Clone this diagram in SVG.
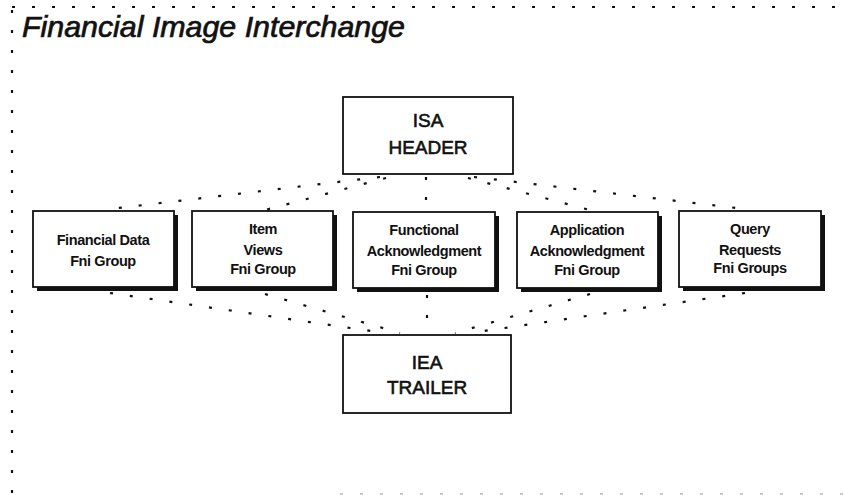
<svg xmlns="http://www.w3.org/2000/svg" width="844" height="495" viewBox="0 0 844 495">
  <style>
    .frame { stroke: #111; stroke-width: 2.2; stroke-dasharray: 3 17; fill: none; }
    .frame-faint { stroke: #bbb; stroke-width: 1.5; stroke-dasharray: 3 17; fill: none; }
    .link { stroke: #111; stroke-width: 2.2; stroke-dasharray: 3 17; fill: none; }
    .box { fill: #fff; stroke: #111; stroke-width: 1.8; }
    .shadow { fill: #111; }
    .title { font-family: "Liberation Sans", Arial, sans-serif; font-style: italic; font-size: 29px; fill: #111; stroke: #111; stroke-width: 0.7px; }
    .big { font-family: "Liberation Sans", Arial, sans-serif; font-size: 19px; fill: #111; stroke: #111; stroke-width: 0.6px; text-anchor: middle; }
    .small { font-family: "Liberation Sans", Arial, sans-serif; font-size: 14.5px; font-weight: bold; letter-spacing: -0.4px; fill: #111; text-anchor: middle; }
  </style>
  <rect width="844" height="495" fill="#fff"/>

  <!-- dotted page frame -->
  <g id="frame">
    <line class="frame" x1="12" y1="7" x2="844" y2="7"/>
    <line class="frame" x1="12" y1="10" x2="12" y2="495"/>
    <line class="frame-faint" x1="340" y1="494" x2="844" y2="494"/>
  </g>

  <text class="title" x="22" y="37" textLength="383" lengthAdjust="spacingAndGlyphs">Financial Image Interchange</text>

  <!-- dotted connectors -->
  <g id="connectors">
    <line class="link" x1="380" y1="177" x2="110" y2="209"/>
    <line class="link" x1="386" y1="178" x2="265" y2="210"/>
    <line class="link" x1="426" y1="177" x2="426" y2="210"/>
    <line class="link" x1="468" y1="178" x2="590" y2="210"/>
    <line class="link" x1="474" y1="177" x2="745" y2="209"/>

    <line class="link" x1="110" y1="293" x2="385" y2="333"/>
    <line class="link" x1="265" y1="294" x2="400" y2="333"/>
    <line class="link" x1="427" y1="295" x2="427" y2="333"/>
    <line class="link" x1="590" y1="294" x2="455" y2="333"/>
    <line class="link" x1="745" y1="293" x2="470" y2="333"/>
  </g>

  <g id="isa-header">
    <rect class="box" x="343" y="97" width="170" height="77"/>
    <text class="big" x="428" y="127">ISA</text>
    <text class="big" x="428" y="154">HEADER</text>
  </g>

  <g id="financial-data">
    <rect class="shadow" x="37" y="215" width="141" height="76"/>
    <rect class="box" x="33" y="211" width="141" height="76"/>
    <text class="small" x="103" y="245">Financial Data</text>
    <text class="small" x="103" y="266">Fni Group</text>
  </g>

  <g id="item-views">
    <rect class="shadow" x="196" y="215" width="141" height="76"/>
    <rect class="box" x="192" y="211" width="141" height="76"/>
    <text class="small" x="263" y="234">Item</text>
    <text class="small" x="263" y="255">Views</text>
    <text class="small" x="263" y="274">Fni Group</text>
  </g>

  <g id="functional-ack">
    <rect class="shadow" x="357" y="216" width="142" height="76"/>
    <rect class="box" x="353" y="212" width="142" height="76"/>
    <text class="small" x="424" y="235">Functional</text>
    <text class="small" x="424" y="256">Acknowledgment</text>
    <text class="small" x="424" y="275">Fni Group</text>
  </g>

  <g id="application-ack">
    <rect class="shadow" x="521" y="216" width="141" height="76"/>
    <rect class="box" x="517" y="212" width="141" height="76"/>
    <text class="small" x="587" y="235">Application</text>
    <text class="small" x="587" y="256">Acknowledgment</text>
    <text class="small" x="587" y="275">Fni Group</text>
  </g>

  <g id="query-requests">
    <rect class="shadow" x="683" y="215" width="142" height="76"/>
    <rect class="box" x="679" y="211" width="142" height="76"/>
    <text class="small" x="750" y="234">Query</text>
    <text class="small" x="750" y="255">Requests</text>
    <text class="small" x="750" y="273">Fni Groups</text>
  </g>

  <g id="iea-trailer">
    <rect class="box" x="343" y="335" width="168" height="78"/>
    <text class="big" x="427" y="369">IEA</text>
    <text class="big" x="427" y="394">TRAILER</text>
  </g>
</svg>
